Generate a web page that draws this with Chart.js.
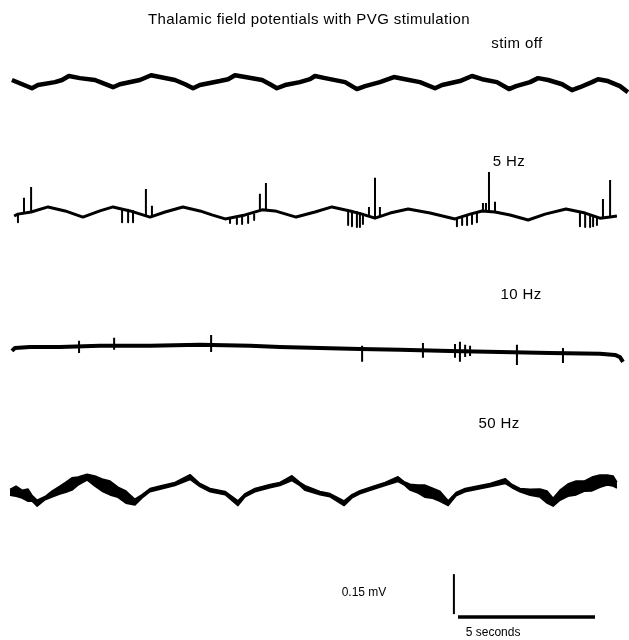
<!DOCTYPE html>
<html>
<head>
<meta charset="utf-8">
<title>Thalamic field potentials with PVG stimulation</title>
<script src="https://cdn.jsdelivr.net/npm/chart.js"></script>
<style>
  html, body { margin: 0; padding: 0; background: #fff; }
  canvas { display: block; }
</style>
</head>
<body>
<canvas id="traceChart" width="629" height="640"></canvas>
<script>
// time in seconds, potentials in microvolts (relative to each trace's own baseline)
const stimOffTime = [0.07, 0.80, 1.02, 1.64, 1.90, 2.15, 2.55, 3.10, 3.39, 3.76,
    4.01, 4.74, 5.15, 5.47, 6.02, 6.39, 6.68, 6.93, 7.66, 7.96,
    8.21, 8.58, 9.20, 9.49, 9.74, 10.04, 10.58, 10.95, 11.13, 11.50,
    12.23, 12.66, 12.96, 13.50, 14.01, 14.42, 14.96, 15.51, 15.77, 16.42,
    16.86, 17.23, 17.77, 18.21, 18.47, 18.98, 19.27, 19.64, 20.15, 20.51,
    20.80, 21.24, 21.46, 21.82, 22.26, 22.55];
const stimOffUv = [8, -23, -11, 0, 8, 23, 15, 8, -4, -19,
    -8, 8, 26, 19, 8, -8, -23, -11, 4, 11,
    26, 19, 8, -8, -23, -11, 0, 11, 23, 15,
    0, -26, -15, 0, 19, 11, 0, -23, -11, 4,
    23, 11, 0, -26, -15, 0, 15, 8, -8, -30,
    -19, 0, 11, 4, -15, -38];

const fiveHzTime = [0.15, 0.29, 0.77, 1.39, 2.01, 2.66, 3.28, 3.76, 4.38, 5.11,
    5.66, 6.31, 6.93, 7.37, 7.85, 8.58, 9.20, 9.67, 10.44, 11.13,
    11.75, 12.41, 12.85, 13.32, 13.87, 14.53, 15.33, 16.24, 16.79, 17.23,
    17.70, 18.25, 18.91, 19.53, 20.29, 20.99, 21.53, 21.90, 22.15];
const fiveHzUv = [-15, -8, 0, 19, 4, -19, 4, 19, 4, -19,
    0, 19, 4, -11, -26, -11, 8, 4, -19, 0,
    19, 4, -8, -23, -4, 11, -4, -26, -8, 4,
    0, -11, -30, -8, 11, -4, -23, -19, -15];
// stimulus artefacts: time, start and end potential
const fiveHzSpikeTime = [0.29, 0.51, 0.77, 4.09, 4.31, 4.49, 4.96, 5.18,
    8.03, 8.28, 8.47, 8.69, 8.91, 9.12, 9.34,
    12.34, 12.48, 12.66, 12.77, 12.88, 13.10, 13.32, 13.50,
    16.31, 16.50, 16.68, 16.86, 17.04, 17.26, 17.37, 17.48, 17.70,
    20.80, 20.99, 21.17, 21.28, 21.42, 21.64, 21.90];
const fiveHzSpikeFrom = [-8, -4, 0, 11, 8, 4, -15, -19,
    -23, -19, -19, -15, -8, 6, 8,
    4, 4, 0, -4, -8, -15, -23, -15,
    -26, -23, -15, -8, -4, 4, 4, 2, 0,
    0, -4, -11, -15, -19, -22, -19];
const fiveHzSpikeTo = [-38, 53, 94, -38, -38, -38, 86, 23,
    -41, -45, -45, -41, -30, 68, 109,
    -49, -53, -56, -56, -45, 19, 128, 19,
    -53, -49, -49, -45, -38, 34, 34, 150, 38,
    -53, -56, -56, -53, -49, 49, 120];

const tenHzTime = [0.07, 0.18, 0.73, 1.82, 3.28, 5.11, 6.93, 8.76, 9.85, 11.31,
    12.77, 14.23, 16.06, 17.88, 19.71, 21.53, 22.08, 22.26, 22.37];
const tenHzUv = [-15, -4, 0, 0, 4, 4, 8, 4, 0, -4,
    -8, -11, -15, -19, -23, -26, -30, -38, -56];
const tenHzSpikeTime = [2.52, 3.80, 7.34, 12.85, 15.07, 16.24, 16.42, 16.61, 16.79, 18.50, 20.18];
const tenHzSpikeLow = [-23, -11, -19, -56, -41, -41, -56, -38, -34, -68, -60];
const tenHzSpikeHigh = [23, 34, 45, 4, 15, 11, 19, 8, 4, 8, -4];

const fiftyHzTime = [0.00, 0.22, 0.44, 0.66, 0.80, 0.99, 1.28, 1.53, 1.82, 2.04,
    2.26, 2.48, 2.81, 3.10, 3.36, 3.65, 3.94, 4.23, 4.56, 4.82,
    5.11, 5.55, 6.02, 6.57, 6.93, 7.30, 7.85, 8.32, 8.58, 8.94,
    9.49, 9.85, 10.29, 10.58, 10.77, 11.31, 11.68, 12.19, 12.48, 12.77,
    13.32, 13.69, 14.16, 14.38, 14.60, 14.89, 15.15, 15.40, 15.69, 15.99,
    16.28, 16.61, 17.15, 17.52, 18.07, 18.32, 18.61, 18.98, 19.34, 19.60,
    19.82, 20.07, 20.36, 20.66, 20.95, 21.24, 21.53, 21.79, 22.01, 22.15];
const fiftyHzUv = [-8, -4, -15, -19, -30, -49, -30, -15, 0, 11,
    23, 34, 49, 34, 19, 8, -8, -26, -45, -23,
    0, 11, 23, 49, 19, 0, -11, -49, -19, 0,
    15, 23, 45, 23, 8, -11, -19, -49, -23, -8,
    11, 23, 41, 26, 11, 4, -4, -11, -23, -49,
    -15, 0, 11, 19, 34, 15, 0, -8, -11, -26,
    -45, -19, 0, 8, 15, 23, 34, 38, 34, 19];
// half-width of the noise band around the 50 Hz trace
const fiftyHzNoise = [11, 19, 15, 23, 11, 11, 6, 11, 15, 19,
    23, 15, 11, 19, 23, 26, 19, 23, 11, 6,
    6, 6, 6, 9, 6, 6, 6, 9, 6, 6,
    6, 6, 9, 6, 9, 6, 6, 9, 6, 6,
    6, 6, 9, 6, 11, 15, 23, 19, 19, 9,
    6, 6, 6, 6, 9, 6, 6, 11, 15, 23,
    15, 19, 23, 26, 19, 26, 23, 19, 19, 11];

const traceLabels = ['stim off', '5 Hz', '10 Hz', '50 Hz'];
const scaleBarUv = 150;
const scaleBarSeconds = 5;

// layout: vertical offset of each trace, label spots, scale bar spot
const traceOffsets = [2092, 1605, 1099, 562];
const labelSpots = [[18.50, 2235], [18.21, 1792], [18.65, 1294], [17.85, 810]];
const barSpot = {vt: 16.20, vuv: 97, ht: 16.35, huv: 86};

function toPoints(times, values, offset, extra) {
    return times.map((t, i) => ({x: t, y: offset + values[i] + (extra ? extra[i] : 0)}));
}

function toSegments(times, from, to, offset) {
    const pts = [];
    times.forEach((t, i) => {
        pts.push({x: t, y: offset + from[i]});
        pts.push({x: t, y: offset + to[i]});
        pts.push({x: t, y: null});
    });
    return pts;
}

const black = '#000';
function line(data, width, extra) {
    return Object.assign({
        data: data,
        borderColor: black,
        borderWidth: width,
        pointRadius: 0,
        fill: false,
        tension: 0,
        borderJoinStyle: 'round'
    }, extra || {});
}

const noiseNeg = fiftyHzNoise.map(v => -v);

const datasets = [
    line(toPoints(stimOffTime, stimOffUv, traceOffsets[0]), 4.5),
    line(toPoints(fiveHzTime, fiveHzUv, traceOffsets[1]), 3),
    line(toSegments(fiveHzSpikeTime, fiveHzSpikeFrom, fiveHzSpikeTo, traceOffsets[1]), 2),
    line(toPoints(tenHzTime, tenHzUv, traceOffsets[2]), 4),
    line(toSegments(tenHzSpikeTime, tenHzSpikeLow, tenHzSpikeHigh, traceOffsets[2]), 2),
    line(toPoints(fiftyHzTime, fiftyHzUv, traceOffsets[3], noiseNeg), 1.5),
    line(toPoints(fiftyHzTime, fiftyHzUv, traceOffsets[3], fiftyHzNoise), 1.5, {fill: '-1', backgroundColor: black}),
    line([{x: barSpot.vt, y: barSpot.vuv}, {x: barSpot.vt, y: barSpot.vuv + scaleBarUv}], 2),
    line([{x: barSpot.ht, y: barSpot.huv}, {x: barSpot.ht + scaleBarSeconds, y: barSpot.huv}], 3.5)
];

const bigFont = '15px "Liberation Sans", Arial, sans-serif';
const smallFont = '12px "Liberation Sans", Arial, sans-serif';
const texts = [
    {text: 'Thalamic field potentials with PVG stimulation', t: 10.91, uv: 2325, font: bigFont},
    {text: '0.15 mV', t: 12.92, uv: 176, font: smallFont},
    {text: '5 seconds', t: 17.63, uv: 26, font: smallFont}
];
traceLabels.forEach((name, i) => {
    texts.push({text: name, t: labelSpots[i][0], uv: labelSpots[i][1], font: bigFont});
});

const textPlugin = {
    id: 'traceText',
    afterDatasetsDraw(chart) {
        const ctx = chart.ctx;
        const xs = chart.scales.x, ys = chart.scales.y;
        ctx.save();
        ctx.fillStyle = black;
        ctx.textAlign = 'center';
        ctx.textBaseline = 'middle';
        texts.forEach(item => {
            ctx.font = item.font;
            ctx.letterSpacing = item.font === bigFont ? '0.4px' : '0px';
            ctx.fillText(item.text, xs.getPixelForValue(item.t), ys.getPixelForValue(item.uv));
        });
        ctx.restore();
    }
};

const ctx = document.getElementById('traceChart').getContext('2d');
const chart = new Chart(ctx, {
    type: 'line',
    data: {datasets: datasets},
    options: {
        responsive: false,
        animation: false,
        layout: {padding: 0},
        plugins: {
            legend: {display: false},
            title: {display: false},
            tooltip: {enabled: false}
        },
        scales: {
            x: {type: 'linear', min: -0.365, max: 22.59, display: false},
            y: {type: 'linear', min: 0, max: 2400, display: false}
        }
    },
    plugins: [textPlugin]
});
</script>
</body>
</html>
